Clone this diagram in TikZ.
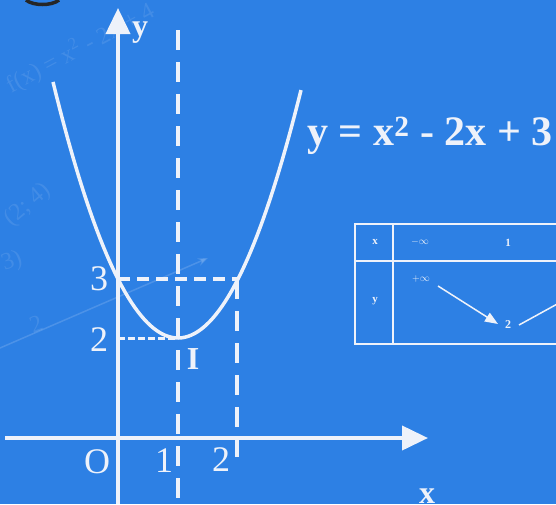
\documentclass[tikz,border=0pt]{standalone}
\usepackage{fontspec}
\setmainfont{Liberation Serif}
\usepackage{tikz}
\usetikzlibrary{arrows.meta,positioning,calc}
\definecolor{board}{HTML}{2D80E4}
\definecolor{chalk}{HTML}{EEF2FA}

\begin{document}
\begin{tikzpicture}[
  x=1pt, y=-1pt,
  axis/.style={draw=chalk, line width=4pt, -{Triangle[length=26pt, width=24pt]}},
  curve/.style={draw=chalk, line width=3.5pt},
  guide/.style={draw=chalk, line width=4.5pt, dash pattern=on 20pt off 12pt},
  level/.style={draw=chalk, line width=3.5pt, dash pattern=on 12pt off 7pt},
  dots/.style={draw=chalk, line width=3pt, dash pattern=on 7pt off 3pt},
  lbl/.style={text=chalk, font=\fontsize{36}{36}\selectfont, inner sep=0pt},
  bold/.style={text=chalk, font=\bfseries\fontsize{32}{32}\selectfont, inner sep=0pt},
  tbl/.style={draw=chalk, line width=1.5pt},
  cell/.style={text=chalk, font=\bfseries\fontsize{11}{11}\selectfont, inner sep=0pt},
  tarrow/.style={draw=chalk, line width=1.5pt, -{Triangle[length=13pt, width=10pt]}},
  ghost/.style={text=white, opacity=0.1, font=\fontsize{24}{24}\selectfont, inner sep=0pt}
]
  % board
  \useasboundingbox (0,0) rectangle (556,504);
  \clip (0,0) rectangle (556,504);
  \fill[board] (0,0) rectangle (556,504);
  \draw[black!85, line width=3.5pt] (26,0) .. controls (33,6) and (52,6) .. (59,0);

  % faint writing behind
  \node[ghost, rotate=28] (g1) at (80,48) {f(x) = x\textsuperscript{2} - 2x + 4};
  \node[ghost, rotate=40] (g2) at (28,205) {(2; 4)};
  \node[ghost, rotate=20] (g3) at (12,262) {3)};
  \node[ghost, rotate=20] (g4) at (36,324) {2};
  \coordinate (f1) at (0,348);
  \coordinate (f2) at (208,258);
  \draw[white, opacity=0.15, line width=1.5pt, -{Stealth[length=10pt]}] (f1) -- (f2);

  % axes
  \coordinate (ybot) at (118,504);
  \coordinate (ytop) at (118,8);
  \coordinate (xleft) at (5,438);
  \coordinate (xright) at (428,438);
  \draw[axis] (ybot) -- (ytop);
  \draw[axis] (xleft) -- (xright);

  % guide lines
  \coordinate (top) at (178,30);
  \coordinate (low) at (178,504);
  \coordinate (A) at (118,279);
  \coordinate (B) at (237,279);
  \coordinate (Bx) at (237,457);
  \coordinate (C) at (118,338);
  \coordinate (I) at (178,338);
  \draw[guide] (top) -- (low);
  \draw[guide] (B) -- (Bx);
  \draw[level] (A) -- (B);
  \draw[dots] (C) -- (I);

  % parabola
  \draw[curve] plot[domain=53:301, samples=80] (\x, {338 - 0.01639*(\x-178)^2});

  % labels
  \node[lbl] (n3) at (99,279) {3};
  \node[lbl] (n2) at (99,340) {2};
  \node[lbl] (nO) at (97,462) {O};
  \node[lbl] (n1) at (164,461) {1};
  \node[lbl] (m2) at (221,460) {2};
  \node[bold] (nI) at (193,359) {I};
  \node[bold] (ny) at (140,33) {y};
  \node[bold] (nx) at (427,496) {x};
  \node[bold, font=\bfseries\fontsize{42}{42}\selectfont] (eqn) at (430,136) {y = x\textsuperscript{2} - 2x + 3};

  % variation table
  \draw[tbl] (355,224) rectangle (600,344);
  \draw[tbl] (393,224) -- (393,344);
  \draw[tbl] (355,261) -- (600,261);
  \node[cell] (tx) at (375,242) {x};
  \node[cell] (ty) at (375,301) {y};
  \node[cell, font=\fontsize{10}{10}\selectfont] (minf) at (420,242) {$-\infty$};
  \node[cell] (t1) at (508,243) {1};
  \node[cell, font=\fontsize{10}{10}\selectfont] (pinf) at (421,279) {$+\infty$};
  \node[cell, font=\bfseries\fontsize{12}{12}\selectfont] (t2) at (508,325) {2};
  \coordinate (a1) at (438,286);
  \coordinate (a2) at (498,324);
  \coordinate (a3) at (519,325);
  \coordinate (a4) at (590,286);
  \draw[tarrow] (a1) -- (a2);
  \draw[tbl] (a3) -- (a4);
\end{tikzpicture}
\end{document}
